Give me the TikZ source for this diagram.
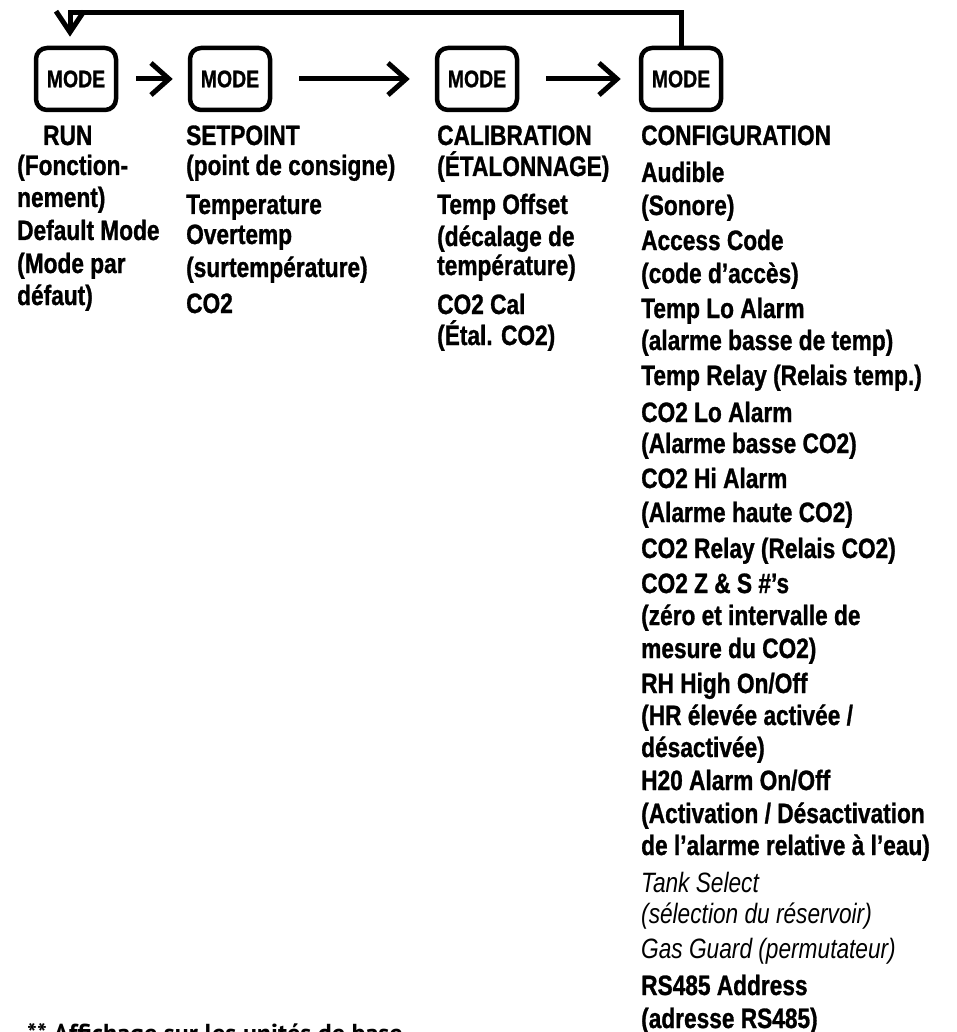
\documentclass[tikz,border=0pt]{standalone}
\usepackage{fontspec}
\setmainfont{Liberation Sans}[FakeStretch=0.81, BoldFeatures={FakeBold=1}]
\newfontfamily\notefont{PT Sans}
\usetikzlibrary{arrows.meta}
\tikzset{
  t/.style={anchor=base west, inner sep=0pt, font=\fontsize{28}{32}\selectfont\bfseries},
  ti/.style={anchor=base west, inner sep=0pt, font=\fontsize{28}{32}\selectfont\itshape},
  modebox/.style={draw, line width=4.5pt, rounded corners=11pt, minimum width=80pt, minimum height=62pt, inner sep=0pt, font=\fontsize{24}{24}\selectfont\bfseries},
  fwd/.style={line width=5pt, -{Straight Barb[length=18pt, width=32pt]}},
  fb/.style={line width=5pt, line join=miter, -{Straight Barb[length=21pt, width=28pt]}}
}
\begin{document}
\begin{tikzpicture}[x=1pt, y=-1pt]
\useasboundingbox (0,0) rectangle (956,1032);
% mode keys
\node[modebox] (m1) at (76,79) {MODE};
\node[modebox] (m2) at (230,79) {MODE};
\node[modebox] (m3) at (477,79) {MODE};
\node[modebox] (m4) at (681,79) {MODE};
% forward arrows
\draw[fwd, shorten <=18pt, shorten >=15pt] (m1.east) -- (m2.west);
\draw[fwd, shorten <=27pt, shorten >=25pt] (m2.east) -- (m3.west);
\draw[fwd, shorten <=27pt, shorten >=18pt] (m3.east) -- (m4.west);
% feedback loop
\coordinate (tl) at (70,13);
\coordinate (tr) at (m4.north |- tl);
\draw[fb, shorten >=9pt] (m4.north) -- (tr) -- (tl) -- (tl |- m1.north);
% column 1
\node[t] (r1) at (43,145) {RUN};
\node[t] (r2) at (17,175) {(Fonction-};
\node[t] (r3) at (17,207) {nement)};
\node[t] (r4) at (17,240) {Default Mode};
\node[t] (r5) at (17,273) {(Mode par};
\node[t] (r6) at (17,305) {défaut)};
% column 2
\node[t] (s1) at (186,145) {SETPOINT};
\node[t] (s2) at (186,175) {(point de consigne)};
\node[t] (s3) at (186,214) {Temperature};
\node[t] (s4) at (186,244) {Overtemp};
\node[t] (s5) at (186,277) {(surtempérature)};
\node[t] (s6) at (186,313) {CO2};
% column 3
\node[t] (c1) at (437,145) {CALIBRATION};
\node[t] (c2) at (437,176) {(ÉTALONNAGE)};
\node[t] (c3) at (437,214) {Temp Offset};
\node[t] (c4) at (437,246) {(décalage de};
\node[t] (c5) at (437,275) {température)};
\node[t] (c6) at (437,314) {CO2 Cal};
\node[t] (c7) at (437,345) {(Étal. CO2)};
% column 4
\node[t] (g1) at (641,145) {CONFIGURATION};
\node[t] (g2) at (641,182) {Audible};
\node[t] (g3) at (641,215) {(Sonore)};
\node[t] (g4) at (641,250) {Access Code};
\node[t] (g5) at (641,283) {(code d’accès)};
\node[t] (g6) at (641,318) {Temp Lo Alarm};
\node[t] (g7) at (641,350) {(alarme basse de temp)};
\node[t] (g8) at (641,385) {Temp Relay (Relais temp.)};
\node[t] (g9) at (641,422) {CO2 Lo Alarm};
\node[t] (g10) at (641,453) {(Alarme basse CO2)};
\node[t] (g11) at (641,488) {CO2 Hi Alarm};
\node[t] (g12) at (641,522) {(Alarme haute CO2)};
\node[t] (g13) at (641,558) {CO2 Relay (Relais CO2)};
\node[t] (g14) at (641,593) {CO2 Z \& S \#’s};
\node[t] (g15) at (641,625) {(zéro et intervalle de};
\node[t] (g16) at (641,658) {mesure du CO2)};
\node[t] (g17) at (641,693) {RH High On/Off};
\node[t] (g18) at (641,725) {(HR élevée activée /};
\node[t] (g19) at (641,757) {désactivée)};
\node[t] (g20) at (641,790) {H20 Alarm On/Off};
\node[t] (g21) at (641,823) {(Activation / Désactivation};
\node[t] (g22) at (641,855) {de l’alarme relative à l’eau)};
\node[ti] (g23) at (641,892) {Tank Select};
\node[ti] (g24) at (641,923) {(sélection du réservoir)};
\node[ti] (g25) at (641,958) {Gas Guard (permutateur)};
\node[t] (g26) at (641,995) {RS485 Address};
\node[t] (g27) at (641,1028) {(adresse RS485)};
% footnote (cut off by the page edge, as in the original)
\node[anchor=base west, inner sep=0pt, font=\notefont\fontsize{26}{28}\selectfont\bfseries] (note) at (27,1042) {** Affichage sur les unités de base};
\end{tikzpicture}
\end{document}
